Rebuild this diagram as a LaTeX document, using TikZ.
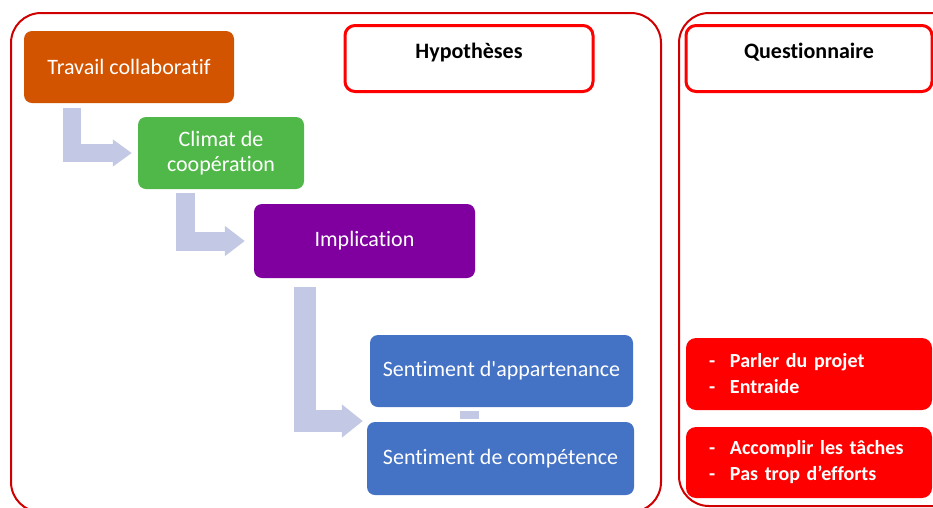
\documentclass[tikz,border=0pt]{standalone}
\usepackage{fontspec}
\setmainfont{Carlito}[Ligatures={TeXOff,NoCommon}]
\usetikzlibrary{calc,arrows.meta}
\definecolor{frameRed}{HTML}{D00000}
\definecolor{headRed}{HTML}{FF0000}
\definecolor{boxRed}{HTML}{FF0000}
\definecolor{cOrange}{HTML}{D35400}
\definecolor{cGreen}{HTML}{50B848}
\definecolor{cPurple}{HTML}{7F009E}
\definecolor{cBlue}{HTML}{4472C4}
\definecolor{cFlow}{HTML}{C3C9E5}
\tikzset{
  frame/.style={draw=frameRed, line width=2pt, rounded corners=30pt},
  header/.style={draw=headRed, line width=3pt, rounded corners=10pt, fill=white,
    minimum width=246pt, minimum height=66pt, inner sep=0pt,
    text height=0pt, text depth=0pt, font=\bfseries\fontsize{22}{24}\selectfont},
  stepbox/.style={rounded corners=8pt, inner sep=0pt, text=white, align=center,
    font=\fontsize{22}{25}\selectfont},
  listbox/.style={fill=boxRed, rounded corners=10pt, minimum width=246pt, inner xsep=23pt,
    text width=200pt, align=left, text=white, font=\bfseries\fontsize{20}{26}\selectfont},
  flowline/.style={draw=cFlow},
}
\newcommand{\bul}[1]{\makebox[21pt][l]{-}#1}
\begin{document}
\begin{tikzpicture}[x=1pt,y=-1pt]
\useasboundingbox (0,0) rectangle (933,507);
\clip (0,0) rectangle (933,507);
% frames
\draw[frame] (11,13) rectangle (661,512);
\draw[frame] (679,13) rectangle (965,506);
% headers
\node[header, minimum width=248pt] (hyp) at (469,58.5) {Hypothèses};
\node[header] (quest) at (809,58.5) {Questionnaire};
% steps
\node[stepbox, fill=cOrange, minimum width=210pt, minimum height=72pt] (trav) at (129,67) {Travail collaboratif};
\node[stepbox, fill=cGreen, minimum width=166pt, minimum height=72pt] (clim) at (221,153) {Climat de\\coopération};
\node[stepbox, fill=cPurple, minimum width=221pt, minimum height=74pt] (impl) at (364.5,241) {Implication};
\node[stepbox, fill=cBlue, minimum width=263pt, minimum height=72pt] (app) at (501.5,371) {Sentiment d'appartenance};
\node[stepbox, fill=cBlue, minimum width=267pt, minimum height=73pt] (comp) at (500.5,458.5) {Sentiment de compétence};
% list boxes
\node[listbox, minimum height=72pt] (q1) at (809,374) {\bul{Parler du projet}\\\bul{Entraide}};
\node[listbox, minimum height=71pt] (q2) at (809,462.5) {\bul{Accomplir les tâches}\\\bul{Pas trop d’efforts}};
% bent arrows
\draw[flowline, line width=18pt, -{Triangle[width=26pt,length=19pt]}]
  ($(trav.south west)+(48,5)$) |- ($(clim.west)+(-6,0)$);
\draw[flowline, line width=19pt, -{Triangle[width=29pt,length=20pt]}]
  ($(clim.south west)+(48,4)$) |- ($(impl.west)+(-9,0)$);
\draw[flowline, line width=22pt, -{Triangle[width=32pt,length=21pt]}]
  ($(impl.south west)+(51,9)$) |- ($(comp.west)+(-4,-37.5)$);
% small link between the two blue boxes
\fill[cFlow] ($(app.south)+(-41.5,4)$) rectangle ($(comp.north)+(-21.5,-3)$);
\end{tikzpicture}
\end{document}
